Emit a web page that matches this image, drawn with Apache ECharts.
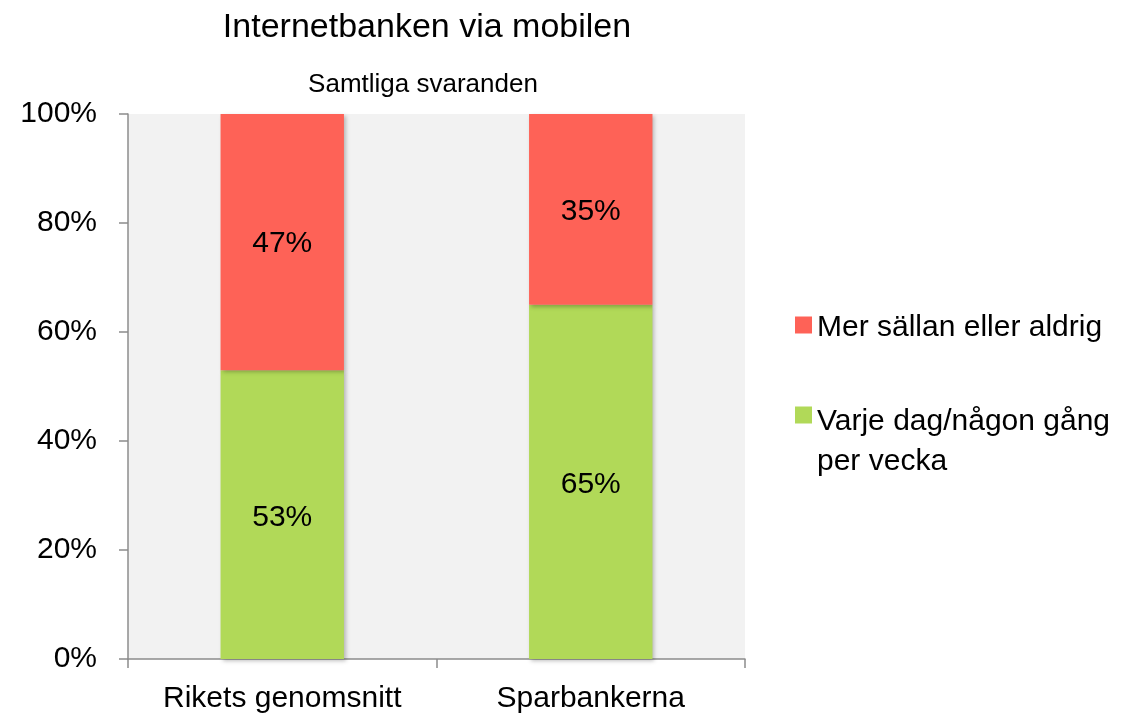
<!DOCTYPE html>
<html>
<head>
<meta charset="utf-8">
<script src="https://cdn.jsdelivr.net/npm/echarts@6/dist/echarts.min.js"></script>
<style>
html, body { margin: 0; padding: 0; background: #fff; }
#chart { width: 1138px; height: 717px; }
</style>
</head>
<body>
<div id="chart"></div>
<script>
// Internetbanken via mobilen - staplad stapel
var chart = echarts.init(document.getElementById('chart'));

var categories = ['Rikets genomsnitt', 'Sparbankerna'];
var seriesNames = ['Varje dag/någon gång per vecka', 'Mer sällan eller aldrig'];
var veckaData = [53, 65];
var sallanData = [47, 35];
var yTicks = [0, 20, 40, 60, 80, 100];

var font = '"Liberation Sans", Arial, sans-serif';

var barStyle = function (color) {
    return {
        color: color,
        shadowBlur: 4,
        shadowOffsetX: 2,
        shadowOffsetY: 2,
        shadowColor: 'rgba(0,0,0,0.25)'
    };
};

// tomma rader styr var ikonen hamnar i förhållande till texten
var legendRich = {
    e: { fontFamily: font, fontSize: 30, lineHeight: 37 },
    g: { fontFamily: font, fontSize: 30, lineHeight: 54 },
    a: { fontFamily: font, fontSize: 30, lineHeight: 32, color: '#000' },
    b: { fontFamily: font, fontSize: 30, lineHeight: 40, color: '#000' }
};

var option = {
    animation: false,
    textStyle: { fontFamily: font },
    title: [{
        text: 'Internetbanken via mobilen',
        left: 422,
        top: 6,
        textAlign: 'center',
        textStyle: { fontFamily: font, fontSize: 34, fontWeight: 'normal', color: '#000' }
    }, {
        text: 'Samtliga svaranden',
        left: 418,
        top: 67,
        textAlign: 'center',
        textStyle: { fontFamily: font, fontSize: 26, fontWeight: 'normal', color: '#000' }
    }],
    legend: [{
        orient: 'vertical',
        left: 790,
        top: 273,
        icon: 'rect',
        itemWidth: 17,
        itemHeight: 17,
        data: [seriesNames[1]],
        formatter: function (name) { return '{e| }\n{a|' + name + '}\n{a| }'; },
        textStyle: { fontFamily: font, fontSize: 30, color: '#000', rich: legendRich }
    }, {
        orient: 'vertical',
        left: 790,
        top: 355,
        icon: 'rect',
        itemWidth: 17,
        itemHeight: 17,
        data: [seriesNames[0]],
        formatter: function () { return '{g| }\n{b|Varje dag/någon gång}\n{b|per vecka}'; },
        textStyle: { fontFamily: font, fontSize: 30, color: '#000', rich: legendRich }
    }],
    grid: {
        left: 128,
        top: 114,
        width: 617,
        height: 545,
        show: true,
        backgroundColor: '#f2f2f2',
        borderWidth: 0
    },
    xAxis: {
        type: 'category',
        data: categories,
        axisLine: { lineStyle: { color: '#8c8c8c', width: 1.5 } },
        axisTick: { show: true, interval: 0, length: 9, lineStyle: { color: '#8c8c8c', width: 1.5 } },
        axisLabel: { interval: 0, fontFamily: font, fontSize: 30, color: '#000', margin: 25 }
    },
    yAxis: {
        type: 'value',
        min: yTicks[0],
        max: yTicks[yTicks.length - 1],
        interval: 20,
        axisLine: { show: true, lineStyle: { color: '#8c8c8c', width: 1.5 } },
        axisTick: { show: true, length: 9, lineStyle: { color: '#8c8c8c', width: 1.5 } },
        splitLine: { show: false },
        axisLabel: { fontFamily: font, fontSize: 30, color: '#000', margin: 31, formatter: '{value}%' }
    },
    series: [{
        name: seriesNames[0],
        type: 'bar',
        stack: 'total',
        barWidth: '40%',
        data: veckaData,
        itemStyle: barStyle('#b1d958'),
        label: { show: true, position: 'inside', offset: [0, 3], formatter: '{c}%', fontFamily: font, fontSize: 30, color: '#000' }
    }, {
        name: seriesNames[1],
        type: 'bar',
        stack: 'total',
        barWidth: '40%',
        data: sallanData,
        itemStyle: barStyle('#fe6257'),
        label: { show: true, position: 'inside', offset: [0, 2], formatter: '{c}%', fontFamily: font, fontSize: 30, color: '#000' }
    }]
};

chart.setOption(option);
</script>
</body>
</html>
